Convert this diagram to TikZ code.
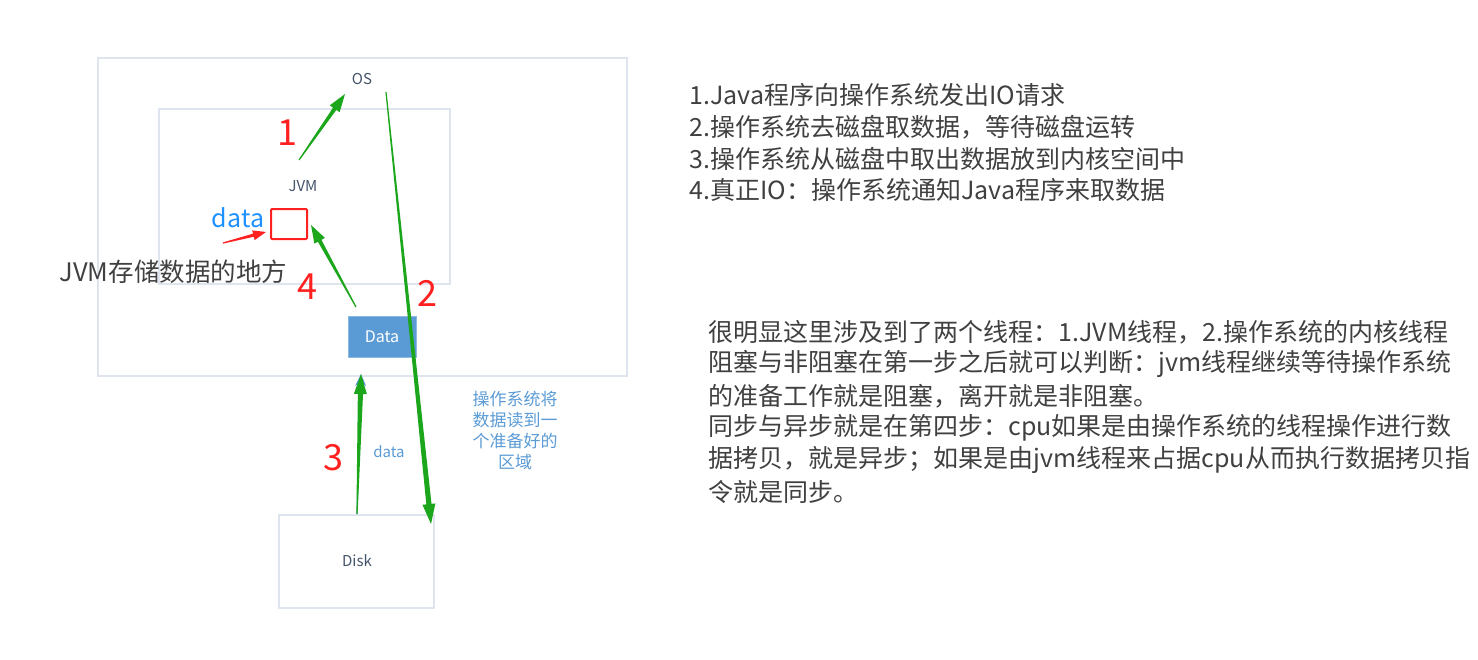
\documentclass[tikz,border=0pt]{standalone}
\usepackage{fontspec}
\setmainfont{Noto Sans CJK SC}
\usetikzlibrary{arrows.meta, calc}

\definecolor{boxline}{HTML}{DFE5EE}
\definecolor{labelblue}{HTML}{44546A}
\definecolor{arrowgreen}{HTML}{1CA61C}
\definecolor{numred}{HTML}{FF2020}
\definecolor{datablue}{HTML}{5B9BD5}
\definecolor{dodger}{HTML}{1E90FF}
\definecolor{textgray}{HTML}{404040}

% tapered arrow: colour, from, to, head length, shaft half width, head half width
\newcommand{\taper}[6]{%
  \coordinate (h) at ($(#3)!#4!(#2)$);
  \fill[#1] ($(#2)!0.6pt!90:(#3)$) -- ($(h)!#5!-90:(#2)$) -- ($(h)!#6!-90:(#2)$) -- (#3)
    -- ($(h)!#6!90:(#2)$) -- ($(h)!#5!90:(#2)$) -- ($(#2)!0.6pt!-90:(#3)$) -- cycle;}

\begin{document}
\begin{tikzpicture}[x=1pt, y=-1pt,
  box/.style={draw=boxline, line width=1.5pt, inner sep=0pt},
  lbl/.style={text=labelblue, font=\fontsize{15}{17}\selectfont},
  num/.style={text=numred, font=\fontsize{36}{40}\selectfont},
  line/.style={anchor=west, text=textgray}]
  \useasboundingbox (0,0) rectangle (1478,659);

  % boxes
  \node[box, minimum width=529pt, minimum height=318pt] (osbox) at (362.5,217) {};
  \node[box, minimum width=291pt, minimum height=175pt] (jvmbox) at (304.5,196.5) {};
  \node[box, minimum width=155pt, minimum height=93pt] (disk) at (356.5,561.5) {};
  \node[draw=numred, line width=2pt, rounded corners=1pt, minimum width=36pt, minimum height=30pt] (store) at (289,224) {};
  \node[fill=datablue, draw=datablue!70!white, minimum width=68pt, minimum height=41pt,
        text=white, font=\fontsize{16}{18}\selectfont] (data) at (382,336.5) {Data};

  \node[lbl] (os) at (362,79) {OS};
  \node[lbl] (jvm) at (303,186) {JVM};
  \node[lbl] at (357,561) {Disk};

  \node[text=dodger, font=\fontsize{25}{28}\selectfont] (datalbl) at (238,218) {data};
  \node[anchor=west, text=textgray, font=\fontsize{25.5}{28}\selectfont] (storelbl) at (56,272) {JVM存储数据的地方};

  \node[num] at (287,133) {1};
  \node[num] at (427,293) {2};
  \node[num] at (333,458) {3};
  \node[num] at (307,287) {4};

  % arrows
  \coordinate (s1) at (299,160);
  \coordinate (e1) at (345,94);
  \coordinate (s2) at (386,92);
  \coordinate (e2) at (431,524);
  \coordinate (s4) at (356,307);
  \coordinate (e4) at (311,225);
  \coordinate (s3) at (357,514);
  \coordinate (e3) at (361,374);
  \coordinate (sr) at (223,243);
  \coordinate (er) at (266,232);

  \draw[datablue, line width=1.2pt, -{Stealth[length=12pt, width=11pt]}] (s3) -- (e3);
  \taper{arrowgreen}{s1}{e1}{18pt}{2pt}{6pt}
  \taper{arrowgreen}{s2}{e2}{20pt}{2.6pt}{6.5pt}
  \taper{arrowgreen}{s3}{e3}{20pt}{2.6pt}{6.5pt}
  \taper{arrowgreen}{s4}{e4}{18pt}{2pt}{6pt}
  \taper{numred}{sr}{er}{13pt}{1.6pt}{5pt}

  \node[text=datablue, font=\fontsize{15}{17}\selectfont] (datatag) at (389,452) {data};
  \node[text=datablue, align=center, font=\fontsize{17}{21}\selectfont] (note) at (515,430)
    {操作系统将\\数据读到一\\个准备好的\\区域};

  % steps
  \begin{scope}[font=\fontsize{25}{29}\selectfont]
    \node[line] (step1) at (686,95)  {1.Java程序向操作系统发出IO请求};
    \node[line] (step2) at (686,127) {2.操作系统去磁盘取数据，等待磁盘运转};
    \node[line] (step3) at (686,159) {3.操作系统从磁盘中取出数据放到内核空间中};
    \node[line] (step4) at (686,190) {4.真正IO：操作系统通知Java程序来取数据};
  \end{scope}

  \begin{scope}[font=\fontsize{25}{29}\selectfont]
    \node[line] (para1) at (705,332) {很明显这里涉及到了两个线程：1.JVM线程，2.操作系统的内核线程};
    \node[line] (para2) at (705,364) {阻塞与非阻塞在第一步之后就可以判断：jvm线程继续等待操作系统};
    \node[line] (para3) at (705,396) {的准备工作就是阻塞，离开就是非阻塞。};
    \node[line] (para4) at (705,428) {同步与异步就是在第四步：cpu如果是由操作系统的线程操作进行数};
    \node[line] (para5) at (705,460) {据拷贝，就是异步；如果是由jvm线程来占据cpu从而执行数据拷贝指};
    \node[line] (para6) at (705,492) {令就是同步。};
  \end{scope}
\end{tikzpicture}
\end{document}
